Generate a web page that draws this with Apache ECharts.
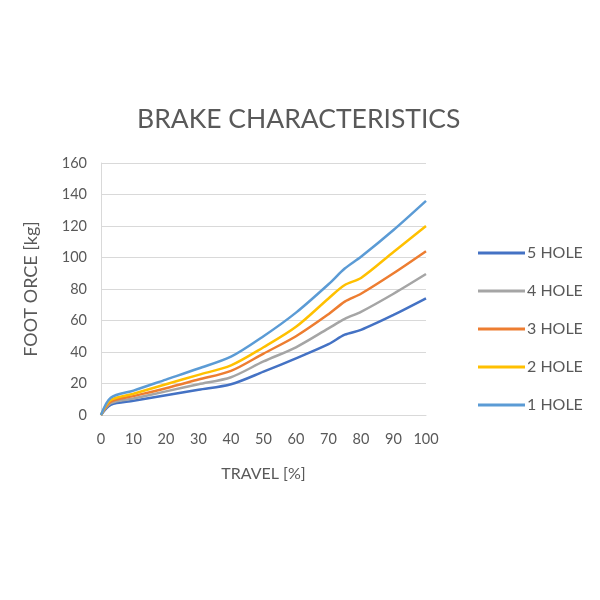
<!DOCTYPE html>
<html><head><meta charset="utf-8">
<script src="https://cdn.jsdelivr.net/npm/echarts@6/dist/echarts.min.js"></script>
<style>html,body{margin:0;padding:0;background:#fff}#c{width:600px;height:600px}</style>
</head><body><div id="c"></div>
<script>
const travel = [0, 3, 10, 20, 30, 40, 50, 60, 70, 75, 80, 90, 100];
const hole5 = [0, 6.5, 9, 12.5, 16, 19.5, 27.5, 36, 45, 51, 54, 63.5, 74];
const hole4 = [0, 7.5, 10.5, 15, 19.5, 24, 34, 43, 55, 61, 65.5, 77, 89.5];
const hole3 = [0, 8.5, 12, 17, 22.5, 28, 39, 50, 64, 72, 77, 90, 104];
const hole2 = [0, 9.5, 13.5, 19.5, 25.5, 31.5, 43, 56, 74, 82.5, 87, 103.5, 120];
const hole1 = [0, 11, 15.5, 22.5, 29.5, 37, 50, 65, 83, 93, 100.5, 117.5, 136];
const seriesNames = ['5 HOLE', '4 HOLE', '3 HOLE', '2 HOLE', '1 HOLE'];
const seriesData = [hole5, hole4, hole3, hole2, hole1];
const colors = ['#4472C4', '#A5A5A5', '#ED7D31', '#FFC000', '#5B9BD5'];
const FONT = 'Lato, "Liberation Sans", sans-serif';
const chart = echarts.init(document.getElementById('c'), null, {renderer: 'canvas'});
chart.setOption({
  animation: false,
  color: colors,
  title: {
    text: 'BRAKE CHARACTERISTICS', left: 132, top: 101,
    textStyle: {fontFamily: FONT, fontSize: 26.5, fontWeight: 'normal', color: '#595959'}
  },
  legend: {
    orient: 'vertical', left: 473, top: 240, itemGap: 22,
    itemWidth: 47, itemHeight: 3, icon: 'rect',
    data: seriesNames,
    textStyle: {fontFamily: FONT, fontSize: 16, color: '#595959', padding: [0, 0, 0, -3]}
  },
  grid: {left: 101, right: 174, top: 163, bottom: 185},
  xAxis: {
    type: 'value', min: 0, max: 100, interval: 10,
    name: 'TRAVEL [%]', nameLocation: 'middle', nameGap: 51,
    nameTextStyle: {fontFamily: FONT, fontSize: 16, color: '#595959'},
    axisLine: {show: true, lineStyle: {color: '#D9D9D9'}},
    axisTick: {show: false},
    splitLine: {show: false},
    axisLabel: {fontFamily: FONT, fontSize: 14.5, color: '#595959', margin: 17}
  },
  yAxis: {
    type: 'value', min: 0, max: 160, interval: 20,
    name: 'FOOT ORCE [kg]', nameLocation: 'middle', nameGap: 61, nameRotate: 90,
    nameTextStyle: {fontFamily: FONT, fontSize: 18, color: '#595959'},
    axisLine: {show: true, lineStyle: {color: '#D9D9D9'}},
    axisTick: {show: false},
    splitLine: {show: true, lineStyle: {color: '#D9D9D9'}},
    axisLabel: {fontFamily: FONT, fontSize: 14.5, color: '#595959', margin: 14}
  },
  series: seriesNames.map((n, i) => ({
    name: n, type: 'line', smooth: 0.3, symbol: 'none',
    lineStyle: {width: 2.5, color: colors[i]},
    data: travel.map((t, j) => [t, seriesData[i][j]])
  }))
});
</script></body></html>
